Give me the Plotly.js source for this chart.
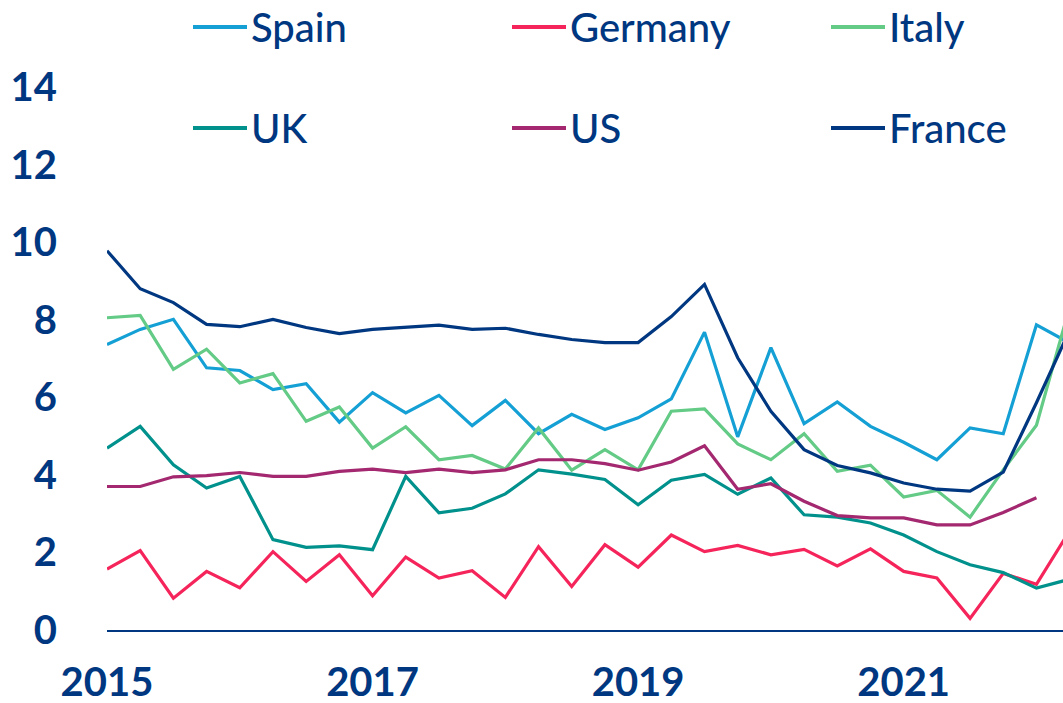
<!DOCTYPE html>
<html>
<head>
<meta charset="utf-8">
<script src="https://cdn.plot.ly/plotly-3.0.1.min.js"></script>
<style>
  html, body { margin: 0; padding: 0; background: #ffffff; }
  #chart { width: 1063px; height: 703px; }
</style>
</head>
<body>
<div id="chart"></div>
<script>
// Quarterly periods (decimal years), 2015 Q1 .. 2022 Q2
const quarters = [
  2015.00, 2015.25, 2015.50, 2015.75,
  2016.00, 2016.25, 2016.50, 2016.75,
  2017.00, 2017.25, 2017.50, 2017.75,
  2018.00, 2018.25, 2018.50, 2018.75,
  2019.00, 2019.25, 2019.50, 2019.75,
  2020.00, 2020.25, 2020.50, 2020.75,
  2021.00, 2021.25, 2021.50, 2021.75,
  2022.00, 2022.25
];

const spain   = [7.36, 7.75, 8.01, 6.76, 6.69, 6.20, 6.35, 5.36, 6.12, 5.60, 6.05, 5.27, 5.92, 5.06, 5.56, 5.17, 5.47, 5.96, 7.68, 4.98, 7.28, 5.32, 5.88, 5.25, 4.84, 4.39, 5.21, 5.06, 7.87, 7.40];
const germany = [1.57, 2.05, 0.82, 1.51, 1.09, 2.02, 1.25, 1.94, 0.88, 1.88, 1.34, 1.53, 0.84, 2.15, 1.12, 2.20, 1.62, 2.45, 2.02, 2.18, 1.94, 2.08, 1.65, 2.09, 1.51, 1.34, 0.30, 1.46, 1.18, 2.56];
const italy   = [8.05, 8.11, 6.72, 7.24, 6.37, 6.61, 5.38, 5.75, 4.69, 5.24, 4.39, 4.50, 4.15, 5.21, 4.12, 4.65, 4.13, 5.64, 5.70, 4.80, 4.39, 5.06, 4.09, 4.25, 3.43, 3.60, 2.91, 4.13, 5.28, 8.33];
const uk      = [4.69, 5.25, 4.26, 3.66, 3.96, 2.33, 2.13, 2.17, 2.07, 3.96, 3.02, 3.14, 3.51, 4.13, 4.02, 3.88, 3.23, 3.86, 4.01, 3.50, 3.92, 2.97, 2.91, 2.76, 2.45, 2.02, 1.68, 1.48, 1.08, 1.31];
const us      = [3.70, 3.70, 3.95, 3.98, 4.06, 3.96, 3.96, 4.09, 4.15, 4.06, 4.15, 4.06, 4.13, 4.39, 4.39, 4.29, 4.12, 4.33, 4.75, 3.63, 3.77, 3.32, 2.95, 2.89, 2.89, 2.71, 2.71, 3.03, 3.41];
const france  = [9.78, 8.80, 8.44, 7.88, 7.82, 8.01, 7.80, 7.64, 7.75, 7.81, 7.86, 7.75, 7.78, 7.62, 7.49, 7.41, 7.41, 8.08, 8.91, 7.02, 5.64, 4.65, 4.24, 4.05, 3.79, 3.63, 3.58, 4.07, 5.86, 7.73];

const seriesNames = ["Spain", "Germany", "Italy", "UK", "US", "France"];
const seriesData  = [spain, germany, italy, uk, us, france];
const seriesColors = ["#14A0D4", "#F5245A", "#63CB86", "#00918C", "#A3286F", "#003781"];

const xTickVals = [2015, 2017, 2019, 2021];
const xTickText = ["2015", "2017", "2019", "2021"];
const yTickVals = [0, 2, 4, 6, 8, 10, 12, 14];

const NAVY = "#003781";
const FONT = "Lato, 'Open Sans', sans-serif";

const traces = seriesNames.map((name, i) => ({
  type: "scatter",
  mode: "lines",
  name: name,
  x: quarters.slice(0, seriesData[i].length),
  y: seriesData[i],
  line: { color: seriesColors[i], width: 3.2 },
  showlegend: false,
  hoverinfo: "skip"
}));

// custom legend: 3 columns x 2 rows
const legendCols = [193, 512, 831];   // px line start
const legendRows = [27, 128];         // px row centre
const W = 1063, H = 703;
const shapes = [];
const annotations = [];
seriesNames.forEach((name, i) => {
  const cx = legendCols[i % 3];
  const cy = legendRows[Math.floor(i / 3)];
  shapes.push({
    type: "line", xref: "paper", yref: "paper",
    x0: (cx - 107) / (W - 107), x1: (cx + 54 - 107) / (W - 107),
    y0: (630 - cy) / (630 - 87), y1: (630 - cy) / (630 - 87),
    line: { color: seriesColors[i], width: 4 }
  });
  annotations.push({
    xref: "paper", yref: "paper",
    x: (cx + 56 - 107) / (W - 107), y: (630 - cy) / (630 - 87),
    xanchor: "left", yanchor: "middle",
    text: name, showarrow: false,
    font: { family: FONT, size: 40, color: NAVY, weight: 500 }
  });
});

const layout = {
  width: W, height: H,
  margin: { l: 107, r: 0, t: 87, b: 73 },
  paper_bgcolor: "#ffffff",
  plot_bgcolor: "#ffffff",
  showlegend: false,
  xaxis: {
    range: [2015, 2022.2],
    tickvals: xTickVals,
    ticktext: xTickText,
    showgrid: false,
    zeroline: false,
    showline: true,
    linecolor: NAVY,
    linewidth: 2,
    ticks: "",
    ticklabelstandoff: 16,
    tickfont: { family: FONT, size: 40, color: NAVY, weight: "bold" }
  },
  yaxis: {
    range: [0, 14],
    tickvals: yTickVals,
    showgrid: false,
    zeroline: false,
    showline: false,
    ticks: "",
    ticklabelstandoff: 49,
    tickfont: { family: FONT, size: 40, color: NAVY, weight: "bold" }
  },
  shapes: shapes,
  annotations: annotations
};

Plotly.newPlot("chart", traces, layout, { displayModeBar: false, staticPlot: true });
</script>
</body>
</html>
